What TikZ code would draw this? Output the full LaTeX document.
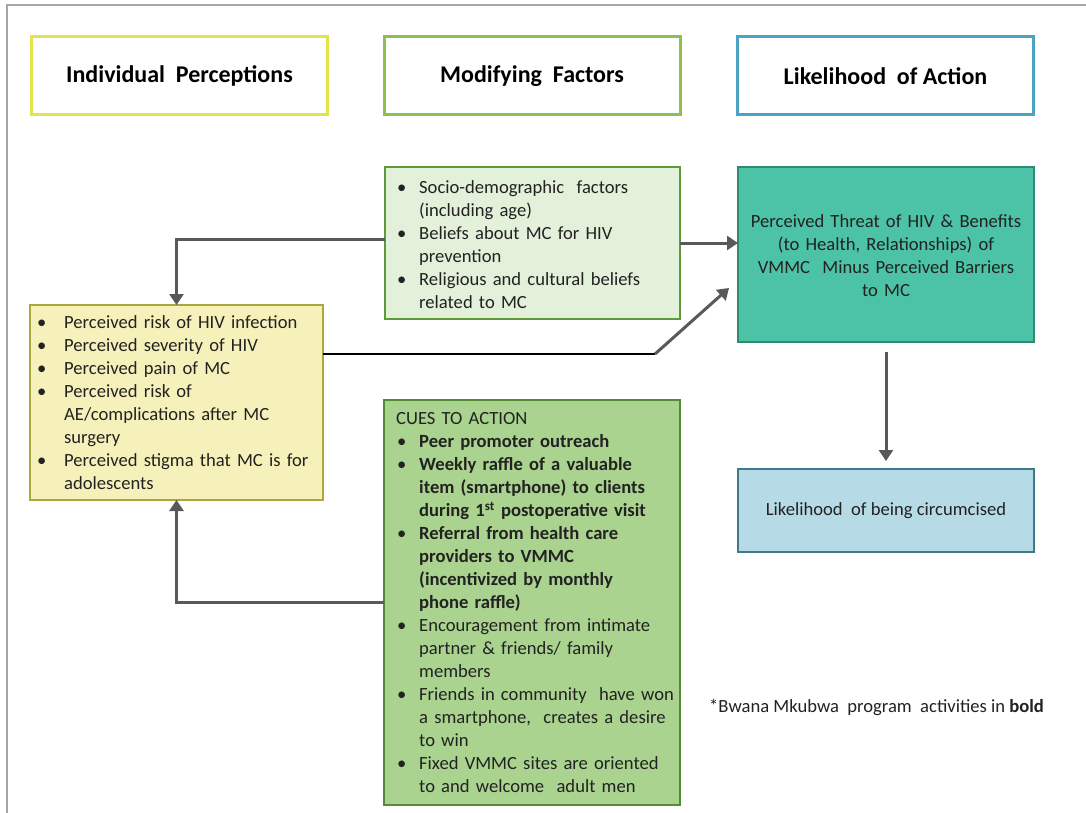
\documentclass[tikz,border=0pt]{standalone}
\usepackage{fontspec}
\setmainfont{Carlito}
\usetikzlibrary{arrows.meta,calc}
\hyphenpenalty=10000
\exhyphenpenalty=10000
\definecolor{hdryellow}{HTML}{E3E34A}
\definecolor{hdrgreen}{HTML}{8CC152}
\definecolor{hdrblue}{HTML}{4BA3C3}
\definecolor{modfill}{HTML}{E3F0DA}
\definecolor{moddraw}{HTML}{5E9A3A}
\definecolor{percfill}{HTML}{F6F1BA}
\definecolor{percdraw}{HTML}{A9A83C}
\definecolor{cuefill}{HTML}{A9D38E}
\definecolor{cuedraw}{HTML}{558A36}
\definecolor{thrfill}{HTML}{4CC2A7}
\definecolor{thrdraw}{HTML}{2F8A72}
\definecolor{likfill}{HTML}{B6DAE6}
\definecolor{likdraw}{HTML}{3C7A8C}
\definecolor{arrgray}{HTML}{595959}
\definecolor{txt}{HTML}{222222}
\newcommand\nl{\hfil\break}
\newcommand\bitem[2]{\par\hangindent=#1pt\hangafter=1\noindent\makebox[#1pt][l]{\kern1pt\textbullet}#2\par}
\tikzset{
  hdr/.style={draw=#1,line width=3pt,minimum width=296pt,minimum height=78pt,font=\fontsize{24}{28}\selectfont\bfseries,text=black},
  box/.style={line width=2.6pt,inner sep=0pt,outer sep=0pt},
  bodytxt/.style={font=\fontsize{18.6}{23}\selectfont,text=txt},
  arr/.style={draw=arrgray,line width=3pt,-{Triangle[width=14pt,length=11pt]}},
}
\begin{document}
\begin{tikzpicture}[x=1pt,y=-1pt]
\useasboundingbox (0,0) rectangle (1086,813);
\fill[white] (0,0) rectangle (1086,813);
\draw[gray!70,line width=1.5pt] (1086,5) -- (7,5) -- (7,813);
% headers
\node[hdr=hdryellow] (h1) at (179.5,76) {Individual\ \ Perceptions};
\node[hdr=hdrgreen] (h2) at (532,76) {Modifying\ \ Factors};
\node[hdr=hdrblue] (h3) at (885.5,76) {Likelihood\ \ of Action};
% modifying factors
\node[box,draw=moddraw,fill=modfill,minimum width=295pt,minimum height=152pt] (mod) at (532.5,243) {};
\node[bodytxt,anchor=west,text width=300pt,align=left,inner sep=0pt] (modt) at (396,240) {%
\bitem{23}{Socio-demographic\ \ factors\nl (including age)}%
\bitem{23}{Beliefs about MC for HIV\nl prevention}%
\bitem{23}{Religious and cultural beliefs\nl related to MC}};
% perceptions
\node[box,draw=percdraw,fill=percfill,minimum width=293pt,minimum height=195pt] (perc) at (176.5,402.5) {};
\node[bodytxt,anchor=west,text width=300pt,align=left,inner sep=0pt] (perct) at (36,398) {%
\bitem{28}{Perceived risk of HIV infection}%
\bitem{28}{Perceived severity of HIV}%
\bitem{28}{Perceived pain of MC}%
\bitem{28}{Perceived risk of\nl AE/complications after MC\nl surgery}%
\bitem{28}{Perceived stigma that MC is for\nl adolescents}};
% cues
\node[box,draw=cuedraw,fill=cuefill,minimum width=296pt,minimum height=405pt] (cues) at (532,602.5) {};
\node[bodytxt,anchor=west,text width=300pt,align=left,inner sep=0pt] (cuest) at (396,602.5) {%
\noindent CUES TO ACTION\par
\bitem{23}{\textbf{Peer promoter outreach}}%
\bitem{23}{\textbf{Weekly raffle of a valuable\nl item (smartphone) to clients\nl during 1\textsuperscript{st} postoperative visit}}%
\bitem{23}{\textbf{Referral from health care\nl providers to VMMC\nl (incentivized by monthly\nl phone raffle)}}%
\bitem{23}{Encouragement from intimate\nl partner \& friends/ family\nl members}%
\bitem{23}{Friends in community\ \ have won\nl a smartphone,\ \ creates a desire\nl to win}%
\bitem{23}{Fixed VMMC sites are oriented\nl to and welcome\ \ adult men}};
% threat
\node[box,draw=thrdraw,fill=thrfill,minimum width=296pt,minimum height=175pt] (thr) at (886,254.5) {};
\node[bodytxt,text width=296pt,align=center,inner sep=0pt] (thrt) at (886,255.5) {Perceived Threat of HIV \& Benefits\\ (to Health, Relationships) of\\ VMMC\ \ Minus Perceived Barriers\\ to MC};
% likelihood
\node[box,draw=likdraw,fill=likfill,minimum width=296pt,minimum height=83pt] (lik) at (886,510.5) {};
\node[bodytxt,inner sep=0pt] (likt) at (886,510.5) {Likelihood\ \ of being circumcised};
% note
\node[bodytxt,anchor=west,inner sep=0pt] (note) at (709,707) {*Bwana Mkubwa\ \ program\ \ activities in \textbf{bold}};
% connectors
\draw[arr] (mod.west |- 0,239) -| (perc.north);
\draw[arr] (mod.east) -- (mod.east -| thr.west);
\coordinate (bend) at (655,354);
\draw[black,line width=2.8pt] (perc.east |- bend) -- (bend);
\draw[arr] (bend) -- ($(thr.south west)+(-9,-54)$);
\draw[arr] (cues.west) -| (perc.south);
\draw[arr,shorten <=10pt,shorten >=8pt] (thr.south) -- (lik.north);
\end{tikzpicture}
\end{document}
